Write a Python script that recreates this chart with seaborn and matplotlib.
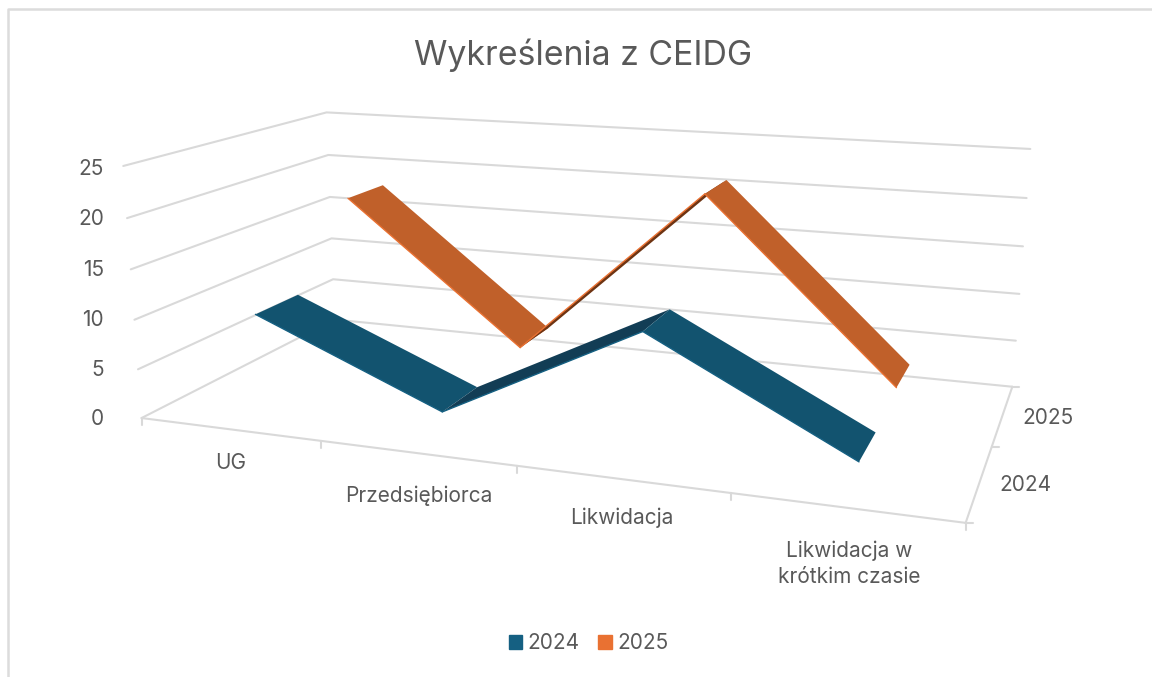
import numpy as np
import pandas as pd
import matplotlib
matplotlib.use('Agg')
import matplotlib.pyplot as plt
from matplotlib.patches import Patch
import seaborn as sns

categories = ['UG', 'Przedsiębiorca', 'Likwidacja', 'Likwidacja w\nkrótkim czasie']
years = ['2024', '2025']
values_2024 = [10, 2.2, 12, 2.1]
values_2025 = [18, 3.2, 21, 3]
value_ticks = [0, 5, 10, 15, 20, 25]

# pixel positions of the chart box corners, used to fit the 3D view
left_front = [(143, 418), (138, 369), (134, 320), (130, 269.7), (126.7, 218), (123.3, 166)]
left_back = [(334, 320), (333, 279), (331, 238), (330, 196.7), (329, 155), (327, 112.7)]
right_back = [(1012.3, 387), (1016, 340.7), (1019.3, 294), (1023, 246), (1026.7, 198), (1030, 149)]
right_front_floor = (965.7, 522.7)

n_cat = len(categories)
n_depth = len(years)

pts = []
for k, z in enumerate(value_ticks):
    pts.append((0, 0, z) + left_front[k])
    pts.append((0, n_depth, z) + left_back[k])
    pts.append((n_cat, n_depth, z) + right_back[k])
pts.append((n_cat, 0, 0) + right_front_floor)

A = []
b = []
for X, Y, Z, u, v in pts:
    A.append([X, Y, Z, 1, 0, 0, 0, 0, -u * X, -u * Y, -u * Z])
    b.append(u)
    A.append([0, 0, 0, 0, X, Y, Z, 1, -v * X, -v * Y, -v * Z])
    b.append(v)
cam = np.linalg.lstsq(np.array(A, float), np.array(b, float), rcond=None)[0]
cam = np.append(cam, 1).reshape(3, 4)


def project(x, y, z):
    w = cam @ np.array([x, y, z, 1.0])
    return w[0] / w[2], w[1] / w[2]


sns.set_theme(style='white')
plt.rcParams['font.family'] = ['Inter', 'DejaVu Sans']

fig = plt.figure(figsize=(11.52, 6.77), dpi=100)
ax = fig.add_axes([0, 0, 1, 1])
ax.set_xlim(0, 1152)
ax.set_ylim(677, 0)
ax.axis('off')

# frame of the screenshot
ax.plot([7.5, 7.5, 1152], [677, 9, 9], color='#dcdcdc', lw=1.8, solid_capstyle='butt')

# gridlines and axes
grid_color = '#d9d9d9'
rows = []
for z in value_ticks:
    for i, (x, y) in enumerate([(0, 0), (0, n_depth), (n_cat, n_depth)]):
        px, py = project(x, y, z)
        rows.append({'px': px, 'py': py, 'line': f'g{z}', 'o': i})
for name, ends in {'front': [(0, 0), (n_cat, 0)], 'side': [(n_cat, 0), (n_cat, n_depth)]}.items():
    for i, (x, y) in enumerate(ends):
        px, py = project(x, y, 0)
        rows.append({'px': px, 'py': py, 'line': name, 'o': i})
grid_df = pd.DataFrame(rows)
sns.lineplot(data=grid_df, x='px', y='py', units='line', estimator=None, sort=False,
             color=grid_color, linewidth=1.5, ax=ax, legend=False)
ax.set_xlabel('')
ax.set_ylabel('')

for i in range(n_cat + 1):
    x0, y0 = project(i, 0, 0)
    ax.plot([x0, x0], [y0, y0 + 7], color=grid_color, lw=1.5)
for d in range(n_depth + 1):
    x0, y0 = project(n_cat, d, 0)
    ax.plot([x0, x0 + 7], [y0, y0], color=grid_color, lw=1.5)

# ribbons, rising parts show their dark underside
ribbon_w = 0.42
series = [
    (1.5, values_2025, '#c0602a', '#6e3413', '#e97132'),
    (0.5, values_2024, '#12536f', '#123d55', '#156082'),
]
for depth, vals, top_col, under_col, edge_col in series:
    y0 = depth - ribbon_w / 2
    y1 = depth + ribbon_w / 2
    for i in range(n_cat - 1):
        poly = [project(i + 0.5, y0, vals[i]), project(i + 1.5, y0, vals[i + 1]),
                project(i + 1.5, y1, vals[i + 1]), project(i + 0.5, y1, vals[i])]
        p = np.array(poly)
        col = under_col if vals[i + 1] > vals[i] else top_col
        ax.fill(p[:, 0], p[:, 1], color=col, lw=0, zorder=3)
        ax.plot(p[:2, 0], p[:2, 1], color=edge_col, lw=1, zorder=4)

# labels
text_color = '#595959'
fig_font = 15
ax.text(583.5, 55, 'Wykreślenia z CEIDG', ha='center', va='center', fontsize=24.4, color=text_color)
tick_label_y = [419, 370, 320, 270, 219, 169]
for k, z in enumerate(value_ticks):
    ax.text(104, tick_label_y[k], str(z), ha='right', va='center', fontsize=fig_font, color=text_color)
label_pos = [(231, 463), (419, 496), (622, 518), (849, 564)]
for name, (lx, ly) in zip(categories, label_pos):
    ax.text(lx, ly, name, ha='center', va='center', fontsize=fig_font, color=text_color, linespacing=1.35)
ax.text(1048, 418, years[1], ha='center', va='center', fontsize=fig_font, color=text_color)
ax.text(1025, 485, years[0], ha='center', va='center', fontsize=fig_font, color=text_color)

handles = [Patch(color='#156082', label=years[0]), Patch(color='#e97132', label=years[1])]
leg = ax.legend(handles=handles, ncol=2, frameon=False, loc='center', bbox_to_anchor=(588.5 / 1152, 1 - 643 / 677),
                fontsize=fig_font, handlelength=0.65, handleheight=0.65, handletextpad=0.25, columnspacing=0.9,
                labelcolor=text_color)

fig.savefig('out.png', dpi=100)
